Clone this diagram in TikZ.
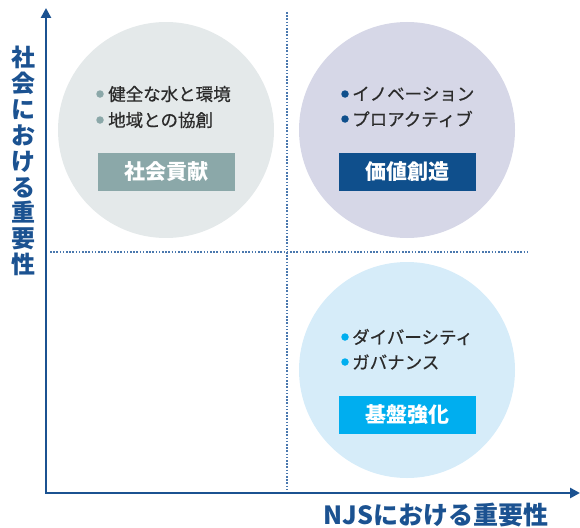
\documentclass[tikz,border=0pt]{standalone}
\usepackage{fontspec}
\newfontfamily\jp{Noto Sans CJK JP}
\newfontfamily\jpm[FakeBold=0.6]{Noto Sans CJK JP}
\usetikzlibrary{arrows.meta}
\definecolor{axisblue}{HTML}{1B5291}
\definecolor{dotblue}{HTML}{4A78AE}
\definecolor{cgray}{HTML}{E4E9EA}
\definecolor{bgray}{HTML}{8BA8A9}
\definecolor{clav}{HTML}{D6D7E7}
\definecolor{bnavy}{HTML}{0F4F8C}
\definecolor{clight}{HTML}{D6ECF9}
\definecolor{bcyan}{HTML}{00AEEF}
\definecolor{txt}{HTML}{2B2B2B}
\tikzset{
  bubble/.style={circle, inner sep=0pt, minimum size=216pt, draw=none},
  tag/.style={rectangle, minimum width=137pt, minimum height=38pt, inner sep=0pt, text=white, font=\jp\bfseries\fontsize{21}{21}\selectfont},
  item/.style={anchor=west, inner sep=0pt, text=txt, font=\jpm\fontsize{17.5}{18}\selectfont},
  dot/.style={circle, inner sep=0pt, minimum size=7.5pt},
  axis/.style={draw=axisblue, line width=2.6pt, {Triangle[length=10pt,width=10pt]}-{Triangle[length=10pt,width=10pt]}},
  grid/.style={draw=dotblue, line width=1.3pt, dash pattern=on 1.6pt off 1.6pt},
  axlabel/.style={text=axisblue, font=\jp\bfseries\fontsize{24}{25.9}\selectfont, inner sep=0pt}
}
\begin{document}
\begin{tikzpicture}[x=1pt,y=-1pt]
\useasboundingbox (0,0) rectangle (580,527);
% bubbles
\node[bubble, fill=cgray] (c1) at (166,130) {};
\node[bubble, fill=clav] (c2) at (407,130) {};
\node[bubble, fill=clight] (c3) at (407,370) {};
% grid lines
\coordinate (vtop) at (287,12);
\coordinate (vbot) at (287,491);
\coordinate (hleft) at (50,252);
\coordinate (hright) at (528,252);
\draw[grid] (vtop) -- (vbot);
\draw[grid] (hleft) -- (hright);
% axes
\coordinate (ytop) at (46,8);
\coordinate (O) at (46,493);
\coordinate (xend) at (580,493);
\draw[axis] (ytop) -- (O) -- (xend);
% axis labels
\node[axlabel, align=center] (ylab) at (23,161) {社\\会\\に\\お\\け\\る\\重\\要\\性};
\node[axlabel, font=\jp\bfseries\fontsize{25}{26}\selectfont] (xlab) at (436,515) {NJSにおける重要性};
% circle 1
\node[dot, fill=bgray] (d11) at (100,94) {};
\node[item] (t11) at (108,94) {健全な水と環境};
\node[dot, fill=bgray] (d12) at (100,120) {};
\node[item] (t12) at (108,120) {地域との協創};
\node[tag, fill=bgray] (b1) at (166.5,172) {社会貢献};
% circle 2
\node[dot, fill=bnavy] (d21) at (345,94) {};
\node[item] (t21) at (352,94) {イノベーション};
\node[dot, fill=bnavy] (d22) at (345,119) {};
\node[item] (t22) at (352,119) {プロアクティブ};
\node[tag, fill=bnavy] (b2) at (407.5,172) {価値創造};
% circle 3
\node[dot, fill=bcyan] (d31) at (345,337) {};
\node[item] (t31) at (352,337) {ダイバーシティ};
\node[dot, fill=bcyan] (d32) at (345,362) {};
\node[item] (t32) at (352,362) {ガバナンス};
\node[tag, fill=bcyan] (b3) at (407.5,415) {基盤強化};
\end{tikzpicture}
\end{document}
